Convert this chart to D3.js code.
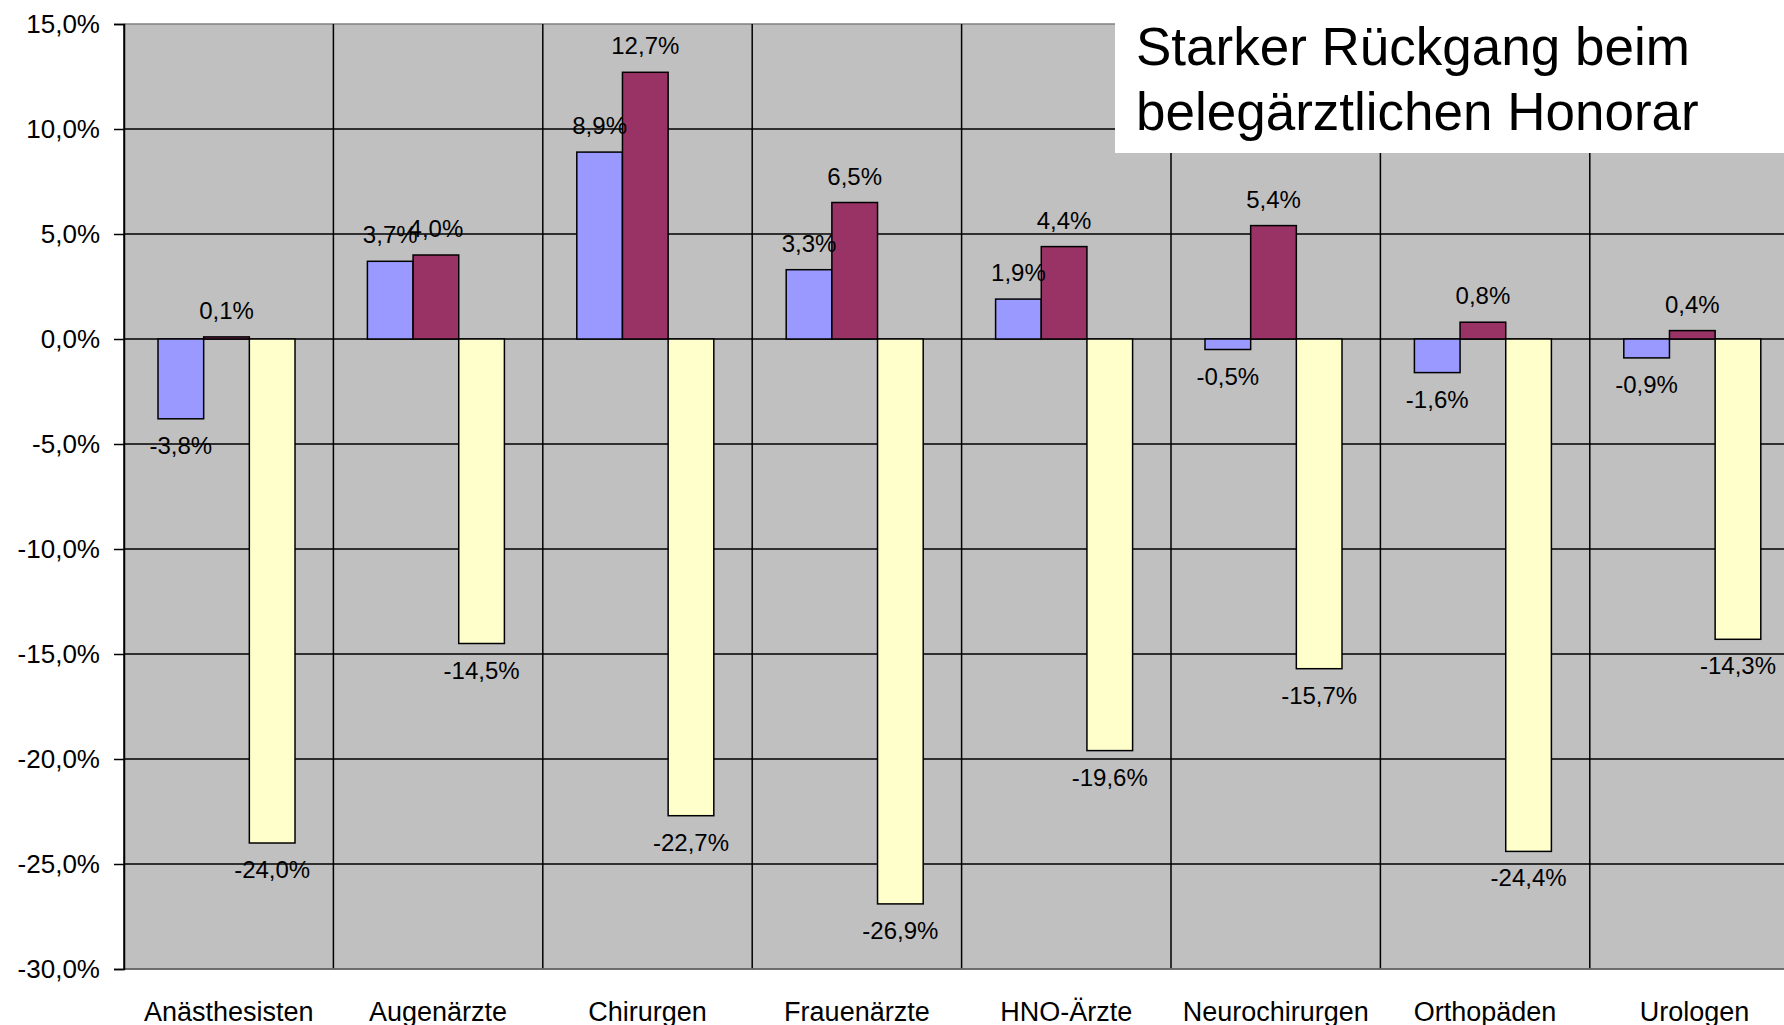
<!DOCTYPE html>
<html>
<head>
<meta charset="utf-8">
<script src="https://cdn.jsdelivr.net/npm/d3@7"></script>
<style>
  body { margin: 0; background: #fff; overflow: hidden; }
  text { font-family: "Liberation Sans", Arial, sans-serif; }
</style>
</head>
<body>
<div id="chart"></div>
<script>
// data
const categories = ["Anästhesisten", "Augenärzte", "Chirurgen", "Frauenärzte", "HNO-Ärzte", "Neurochirurgen", "Orthopäden", "Urologen"];
const seriesNames = ["s1", "s2", "s3"];
const series1 = [-3.8, 3.7, 8.9, 3.3, 1.9, -0.5, -1.6, -0.9];
const series2 = [0.1, 4.0, 12.7, 6.5, 4.4, 5.4, 0.8, 0.4];
const series3 = [-24.0, -14.5, -22.7, -26.9, -19.6, -15.7, -24.4, -14.3];
const yTicks = [15, 10, 5, 0, -5, -10, -15, -20, -25, -30];
const titleLines = ["Starker Rückgang beim", "belegärztlichen Honorar"];

const colors = ["#9999ff", "#993366", "#ffffcc"];

const W = 1784, H = 1025;
const margin = {top: 24, left: 124, bottom: 56};
const catW = 209.4;
const plotW = catW * categories.length;
const plotH = H - margin.top - margin.bottom;

// german number format, plain hyphen for minus
const de = d3.formatLocale({decimal: ",", thousands: ".", grouping: [3], currency: ["", " €"], minus: "-"});
const fmt = de.format(".1f");

const svg = d3.select("#chart").append("svg")
  .attr("width", W)
  .attr("height", H);

const g = svg.append("g")
  .attr("transform", `translate(${margin.left}, ${margin.top})`);

const x0 = d3.scaleBand().domain(categories).range([0, plotW]).padding(0);
const x1 = d3.scaleBand().domain(seriesNames).range([34, 171]).padding(0);
const y = d3.scaleLinear().domain([-30, 15]).range([plotH, 0]);

// plot background
g.append("rect")
  .attr("width", plotW)
  .attr("height", plotH)
  .attr("fill", "#c0c0c0");

// horizontal gridlines
g.selectAll(".hgrid")
  .data(yTicks)
  .join("line")
    .attr("x1", 0).attr("x2", plotW)
    .attr("y1", d => y(d)).attr("y2", d => y(d))
    .attr("stroke", d => (d === 15 ? "#808080" : "#000"))
    .attr("stroke-width", 1.5);

// vertical gridlines between categories
g.selectAll(".vgrid")
  .data(categories)
  .join("line")
    .attr("x1", d => x0(d)).attr("x2", d => x0(d))
    .attr("y1", 0).attr("y2", plotH)
    .attr("stroke", "#000")
    .attr("stroke-width", 1.5);

// bottom border
g.append("line")
  .attr("x1", 0).attr("x2", plotW)
  .attr("y1", plotH).attr("y2", plotH)
  .attr("stroke", "#808080")
  .attr("stroke-width", 1.5);

// y axis
const yAxis = g.append("g")
  .call(d3.axisLeft(y).tickValues(yTicks).tickSize(10).tickPadding(14).tickFormat(d => fmt(d) + "%"));
yAxis.select(".domain").attr("stroke", "#000").attr("stroke-width", 1.5);
yAxis.selectAll(".tick line").attr("stroke", "#000").attr("stroke-width", 1.5);
yAxis.selectAll(".tick text")
  .attr("font-size", 26)
  .attr("fill", "#000")
  .attr("font-family", "Liberation Sans, Arial, sans-serif");

// bars
const rows = categories.map((c, i) => ({cat: c, vals: [series1[i], series2[i], series3[i]]}));

const groups = g.selectAll(".cat")
  .data(rows)
  .join("g")
    .attr("transform", d => `translate(${x0(d.cat)}, 0)`);

groups.selectAll("rect")
  .data(d => d.vals.map((v, k) => ({key: seriesNames[k], v: v, k: k})))
  .join("rect")
    .attr("x", d => x1(d.key))
    .attr("width", x1.bandwidth())
    .attr("y", d => y(Math.max(0, d.v)))
    .attr("height", d => Math.abs(y(d.v) - y(0)))
    .attr("fill", d => colors[d.k])
    .attr("stroke", "#000")
    .attr("stroke-width", 1.5);

groups.selectAll(".lbl")
  .data(d => d.vals.map((v, k) => ({key: seriesNames[k], v: v})))
  .join("text")
    .attr("class", "lbl")
    .attr("x", d => x1(d.key) + x1.bandwidth() / 2)
    .attr("y", d => (d.v >= 0 ? y(d.v) - 18 : y(d.v) + 35))
    .attr("text-anchor", "middle")
    .attr("font-size", 24)
    .attr("fill", "#000")
    .text(d => fmt(d.v) + "%");

// category labels
g.selectAll(".catlbl")
  .data(categories)
  .join("text")
    .attr("x", d => x0(d) + x0.bandwidth() / 2)
    .attr("y", plotH + 52)
    .attr("text-anchor", "middle")
    .attr("font-size", 27)
    .attr("fill", "#000")
    .text(d => d);

// title box
svg.append("rect")
  .attr("x", 1115).attr("y", 0)
  .attr("width", W - 1115).attr("height", 153)
  .attr("fill", "#fff");

svg.selectAll(".title")
  .data(titleLines)
  .join("text")
    .attr("x", 1136)
    .attr("y", (d, i) => 65 + i * 65)
    .attr("font-size", 53)
    .attr("fill", "#000")
    .text(d => d);
</script>
</body>
</html>
